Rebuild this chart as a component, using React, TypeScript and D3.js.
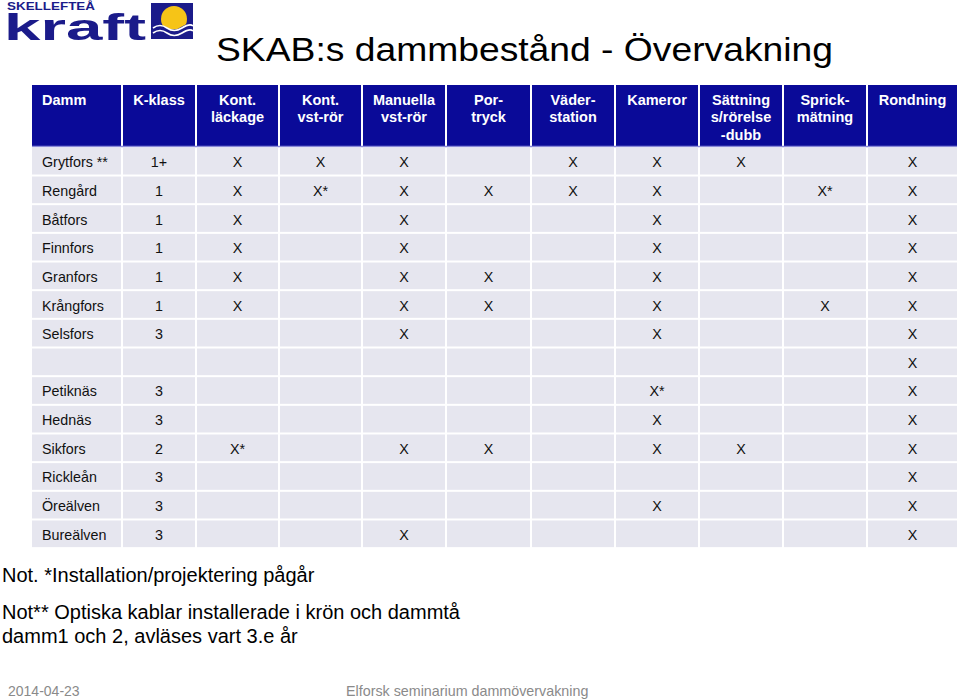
import React from "react";
import * as d3 from "d3";

const columns: string[][] = [
  ["Damm"],
  ["K-klass"],
  ["Kont.", "läckage"],
  ["Kont.", "vst-rör"],
  ["Manuella", "vst-rör"],
  ["Por-", "tryck"],
  ["Väder-", "station"],
  ["Kameror"],
  ["Sättning", "s/rörelse", "-dubb"],
  ["Sprick-", "mätning"],
  ["Rondning"],
];

const dams = [
  "Grytfors **", "Rengård", "Båtfors", "Finnfors", "Granfors", "Krångfors", "Selsfors",
  "", "Petiknäs", "Hednäs", "Sikfors", "Rickleån", "Öreälven", "Bureälven",
];
const kClass = ["1+", "1", "1", "1", "1", "1", "3", "", "3", "3", "2", "3", "3", "3"];

const marks: string[][] = [
  ["X", "X", "X", "", "X", "X", "X", "", "X"],
  ["X", "X*", "X", "X", "X", "X", "", "X*", "X"],
  ["X", "", "X", "", "", "X", "", "", "X"],
  ["X", "", "X", "", "", "X", "", "", "X"],
  ["X", "", "X", "X", "", "X", "", "", "X"],
  ["X", "", "X", "X", "", "X", "", "X", "X"],
  ["", "", "X", "", "", "X", "", "", "X"],
  ["", "", "", "", "", "", "", "", "X"],
  ["", "", "", "", "", "X*", "", "", "X"],
  ["", "", "", "", "", "X", "", "", "X"],
  ["X*", "", "X", "X", "", "X", "X", "", "X"],
  ["", "", "", "", "", "", "", "", "X"],
  ["", "", "", "", "", "X", "", "", "X"],
  ["", "", "X", "", "", "", "", "", "X"],
];

const notes = [
  "Not. *Installation/projektering pågår",
  "Not** Optiska kablar installerade i krön och dammtå",
  "damm1 och 2, avläses vart 3.e år",
];
const title = "SKAB:s dammbestånd - Övervakning";
const footerDate = "2014-04-23";
const footerEvent = "Elforsk seminarium dammövervakning";
const logoTop = "SKELLEFTEÅ";
const logoMain = "kraft";

// layout (relative column widths)
const colWeights = [91, 74, 83, 83, 84, 85, 84, 84, 84, 84, 91];

const FONT = "'Liberation Sans', Arial, Helvetica, sans-serif";
const BLUE = "#0a0a98";
const CELL = "#e6e6ef";
const LOGO = "#1b1b8a";

export default function App() {
  const W = 960, H = 699;
  const edges = [0, ...d3.cumsum(colWeights)];
  const x = d3.scaleLinear().domain([0, d3.sum(colWeights)]).range([31, 958]);
  const colX = (i: number) => x(edges[i]);
  const colW = (i: number) => x(edges[i + 1]) - x(edges[i]);

  const headTop = 85, headBottom = 146;
  const y = d3
    .scaleBand<number>()
    .domain(d3.range(dams.length))
    .range([147, 548])
    .paddingInner(0.07)
    .paddingOuter(0.03);

  const rowCells = (r: number) => [dams[r], kClass[r], ...marks[r]];

  return (
    <svg width={W} height={H} style={{ position: "absolute", left: 0, top: 0 }} fontFamily={FONT}>
      <rect x={0} y={0} width={W} height={H} fill="#fff" />

      {/* Logo */}
      <g>
        <text x={7} y={10} fontSize={10} fontWeight={900} fill={LOGO} textLength={88} lengthAdjust="spacingAndGlyphs">
          {logoTop}
        </text>
        <text x={4} y={40} fontSize={37} fontWeight={900} fill={LOGO} textLength={142} lengthAdjust="spacingAndGlyphs">
          {logoMain}
        </text>
        <rect x={151} y={3} width={42} height={36} fill={LOGO} />
        <circle cx={174} cy={19} r={13} fill="#f6c417" />
        <path d="M151,27 Q158,22 166,27 T181,27 T193,25 L193,39 L151,39 Z" fill={LOGO} />
        <path d="M153,28 Q160,23 167,28 T182,28 T193,26" fill="none" stroke="#fff" strokeWidth={1.6} />
        <path d="M153,33 Q160,28 167,33 T182,33 T193,31" fill="none" stroke="#fff" strokeWidth={1.6} />
      </g>

      {/* Title */}
      <text x={216} y={61} fontSize={34} fill="#000" textLength={617} lengthAdjust="spacingAndGlyphs">
        {title}
      </text>

      {/* Header */}
      {columns.map((lines, i) => (
        <g key={"h" + i}>
          <rect x={colX(i) + 1} y={headTop} width={colW(i) - 2} height={headBottom - headTop} fill={BLUE} />
          {lines.map((ln, j) => (
            <text
              key={j}
              x={i === 0 ? colX(i) + 11 : colX(i) + colW(i) / 2}
              y={104.5 + j * 17.5}
              textAnchor={i === 0 ? "start" : "middle"}
              fontSize={14.5}
              fontWeight="bold"
              fill="#fff"
            >
              {ln}
            </text>
          ))}
        </g>
      ))}
      <line x1={32} x2={957} y1={146.5} y2={146.5} stroke="#8a8ad8" strokeWidth={1.5} />

      {/* Body */}
      {dams.map((_, r) => (
        <g key={"r" + r}>
          {rowCells(r).map((v, c) => (
            <g key={c}>
              <rect x={colX(c) + 1} y={y(r)!} width={colW(c) - 2} height={y.bandwidth()} fill={CELL} />
              {v !== "" && (
                <text
                  x={c === 0 ? colX(c) + 11 : colX(c) + colW(c) / 2}
                  y={y(r)! + y.bandwidth() / 2 + 6}
                  textAnchor={c === 0 ? "start" : "middle"}
                  fontSize={14.3}
                  fill="#111"
                >
                  {v}
                </text>
              )}
            </g>
          ))}
        </g>
      ))}

      {/* Notes */}
      {notes.map((n, i) => (
        <text key={"n" + i} x={2} y={[582, 619, 643][i]} fontSize={20} fill="#000">
          {n}
        </text>
      ))}

      {/* Footer */}
      <text x={8} y={696} fontSize={14} fill="#8a8a8a">
        {footerDate}
      </text>
      <text x={346} y={696} fontSize={14.3} fill="#8a8a8a">
        {footerEvent}
      </text>
    </svg>
  );
}
